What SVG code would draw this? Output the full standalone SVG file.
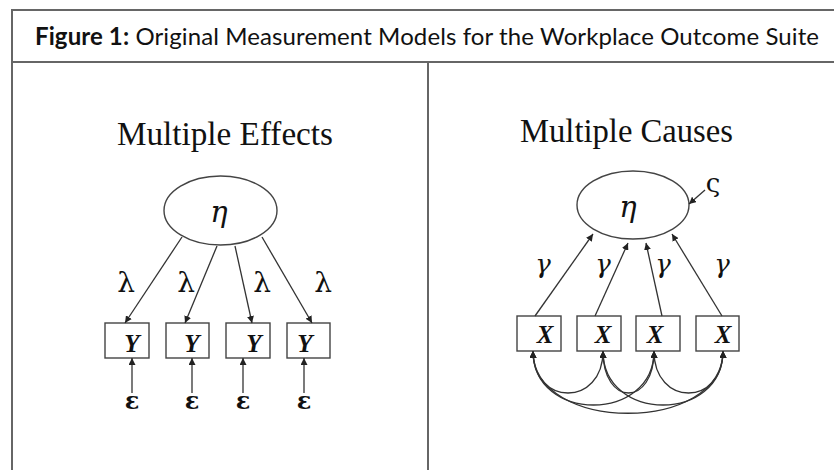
<svg xmlns="http://www.w3.org/2000/svg" width="834" height="470" viewBox="0 0 834 470">
<defs>
<marker id="ah" viewBox="0 0 10 10" refX="10" refY="5" markerWidth="7" markerHeight="7" markerUnits="userSpaceOnUse" orient="auto-start-reverse">
<path d="M0,0 L10,5 L0,10 z" fill="#222"/>
</marker>
<style>
.frame{fill:none;stroke:#666;stroke-width:2}
.title{font-family:Lato,"Open Sans",sans-serif;font-size:24px;fill:#111}
.head{font-family:"Liberation Serif","Times New Roman",serif;font-size:33px;fill:#111;text-anchor:middle}
.node{fill:#fff;stroke:#444;stroke-width:1.4}
.greek{font-family:"DejaVu Serif","Liberation Serif",serif;fill:#111;text-anchor:middle}
.var{font-family:"Liberation Serif","Times New Roman",serif;font-weight:bold;font-style:italic;font-size:25px;fill:#111;text-anchor:middle}
.eps{font-family:"DejaVu Serif","Liberation Serif",serif;font-weight:bold;font-size:24px;fill:#111;text-anchor:middle}
.edge{fill:none;stroke:#333;stroke-width:1.3;marker-end:url(#ah)}
.cov{fill:none;stroke:#333;stroke-width:1.3;marker-start:url(#ah);marker-end:url(#ah)}
</style>
</defs>
<rect width="834" height="470" fill="#fff"/>
<g id="frame">
<path class="frame" d="M12,480 V10 H850 M12,62 H850 M428,62 V480"/>
<text class="title" x="35" y="45" textLength="784" lengthAdjust="spacing"><tspan font-weight="bold">Figure 1:</tspan>  Original Measurement Models for the Workplace Outcome Suite</text>
</g>
<g id="left-panel">
<text class="head" x="225" y="145" textLength="216" lengthAdjust="spacingAndGlyphs">Multiple Effects</text>
<g id="eta-left"><ellipse class="node" cx="220.5" cy="210.5" rx="56.5" ry="34.5"/><text class="greek" x="219" y="222" font-size="29" font-style="italic">η</text></g>
<g id="y1"><rect class="node" x="105" y="323" width="44" height="35"/><text class="var" x="132" y="352">Y</text></g>
<g id="y2"><rect class="node" x="166" y="323" width="43" height="35"/><text class="var" x="192" y="352">Y</text></g>
<g id="y3"><rect class="node" x="226" y="323" width="44" height="35"/><text class="var" x="254" y="352">Y</text></g>
<g id="y4"><rect class="node" x="287" y="323" width="43" height="35"/><text class="var" x="305" y="352">Y</text></g>
<g id="e1"><text class="eps" x="132" y="409">ε</text></g>
<g id="e2"><text class="eps" x="192" y="409">ε</text></g>
<g id="e3"><text class="eps" x="243" y="409">ε</text></g>
<g id="e4"><text class="eps" x="304" y="409">ε</text></g>
</g>
<g id="right-panel">
<text class="head" x="626.5" y="142" textLength="213" lengthAdjust="spacingAndGlyphs">Multiple Causes</text>
<g id="eta-right"><ellipse class="node" cx="633" cy="205" rx="56" ry="34"/><text class="greek" x="628" y="217" font-size="29" font-style="italic">η</text></g>
<g id="zeta"><text class="greek" x="713" y="192" font-size="26">ς</text></g>
<g id="x1"><rect class="node" x="517" y="316" width="44" height="35"/><text class="var" x="545" y="343">X</text></g>
<g id="x2"><rect class="node" x="577" y="316" width="44" height="35"/><text class="var" x="603" y="343">X</text></g>
<g id="x3"><rect class="node" x="636" y="316" width="44" height="35"/><text class="var" x="655" y="343">X</text></g>
<g id="x4"><rect class="node" x="696" y="316" width="43" height="35"/><text class="var" x="723" y="343">X</text></g>
</g>
<g id="connectors">
<path class="edge" d="M182,237 L125,323"/>
<path class="edge" d="M217,246 L185,323"/>
<path class="edge" d="M235,246 L252,323"/>
<path class="edge" d="M262,237 L312,323"/>
<path class="edge" d="M132,393 L132,358"/>
<path class="edge" d="M192,393 L192,358"/>
<path class="edge" d="M243,393 L243,358"/>
<path class="edge" d="M304,393 L304,358"/>
<path class="edge" d="M535,316 L593,234"/>
<path class="edge" d="M595,316 L628,243"/>
<path class="edge" d="M662,316 L646,243"/>
<path class="edge" d="M722,316 L672,234"/>
<path class="edge" d="M705,190 L689,204"/>
<path class="cov" d="M533,351 C533,407 603,407 603,351"/>
<path class="cov" d="M603,351 C603,407 654,407 654,351"/>
<path class="cov" d="M654,351 C654,407 723,407 723,351"/>
<path class="cov" d="M533,351 C533,423 654,423 654,351"/>
<path class="cov" d="M603,351 C603,423 723,423 723,351"/>
<path class="cov" d="M533,351 C533,434 723,434 723,351"/>
</g>
<g id="edge-labels">
<text class="greek" x="126" y="292" font-size="28">λ</text>
<text class="greek" x="186" y="292" font-size="28">λ</text>
<text class="greek" x="262" y="292" font-size="28">λ</text>
<text class="greek" x="323" y="292" font-size="28">λ</text>
<text class="greek" x="543" y="273" font-size="26" font-style="italic">γ</text>
<text class="greek" x="603" y="273" font-size="26" font-style="italic">γ</text>
<text class="greek" x="663" y="273" font-size="26" font-style="italic">γ</text>
<text class="greek" x="722" y="273" font-size="26" font-style="italic">γ</text>
</g>
</svg>
